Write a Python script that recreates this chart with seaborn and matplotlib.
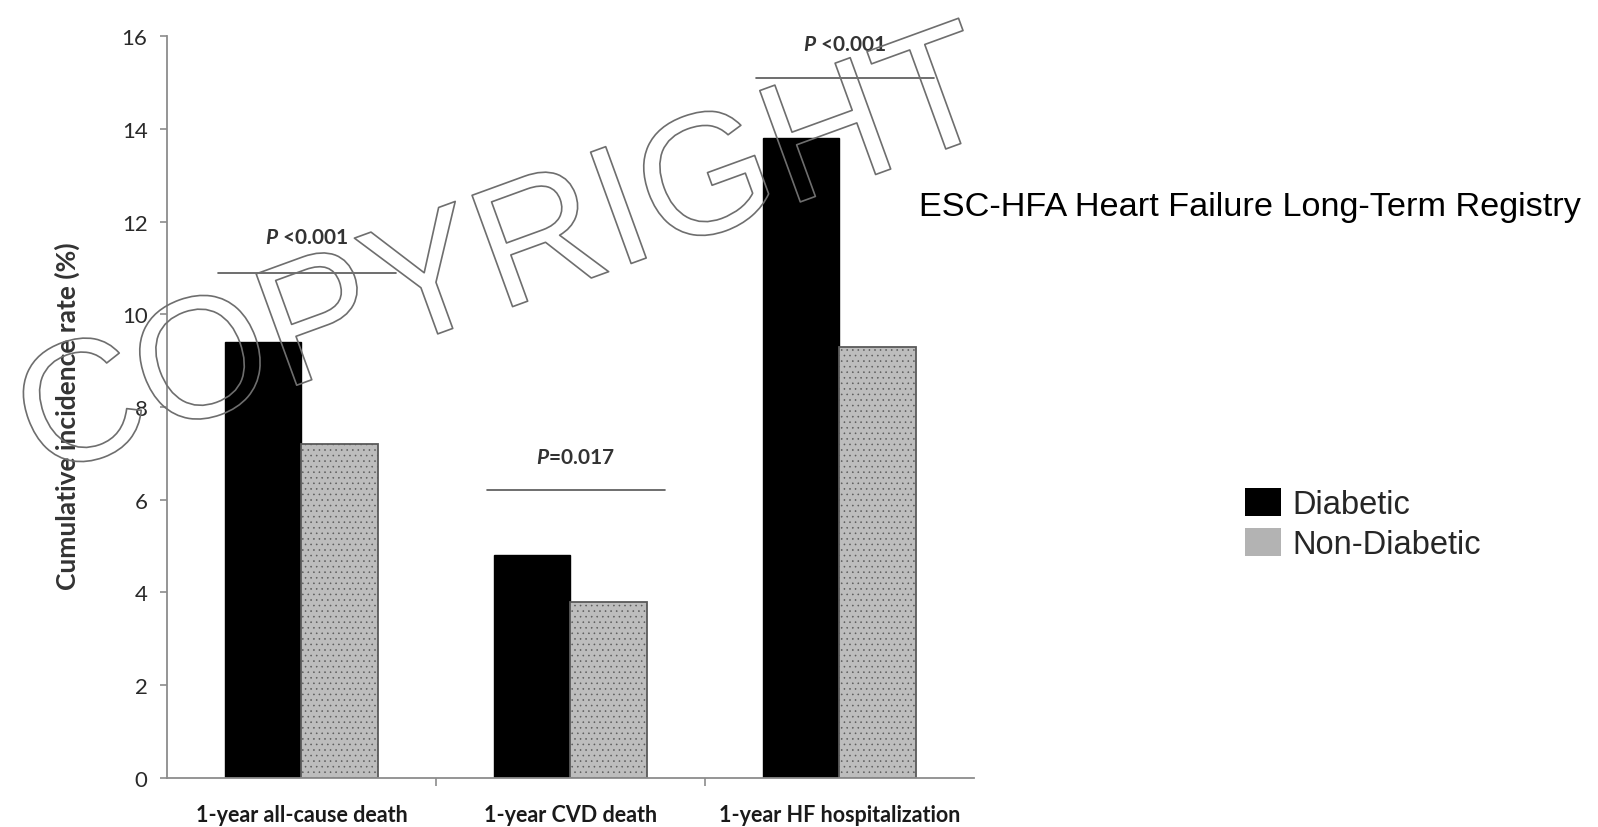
import matplotlib.pyplot as plt
import matplotlib.patheffects as pe
from matplotlib.patches import Patch
import pandas as pd
import seaborn as sns

categories = ["1-year all-cause death", "1-year CVD death", "1-year HF hospitalization"]
groups = ["Diabetic", "Non-Diabetic"]
diabetic = [9.4, 4.8, 13.8]
non_diabetic = [7.2, 3.8, 9.3]
p_labels = [r"$P$ <0.001", r"$P$=0.017", r"$P$ <0.001"]
p_line_y = [10.9, 6.2, 15.1]
p_text_y = [11.67, 6.92, 15.83]
y_ticks = [0, 2, 4, 6, 8, 10, 12, 14, 16]

df = pd.DataFrame({
    "category": categories * 2,
    "group": [groups[0]] * 3 + [groups[1]] * 3,
    "rate": diabetic + non_diabetic,
})

sns.set_theme(style="white")
plt.rcParams["font.family"] = ["Lato", "DejaVu Sans"]
plt.rcParams["mathtext.fontset"] = "custom"
plt.rcParams["mathtext.it"] = "Lato:italic:bold"
plt.rcParams["mathtext.rm"] = "Lato:bold"
plt.rcParams["hatch.linewidth"] = 0.4

fig = plt.figure(figsize=(15.98, 8.28), dpi=100)
ax = fig.add_axes([0.1045, 0.0592, 0.5050, 0.8961])

sns.barplot(data=df, x="category", y="rate", hue="group", hue_order=groups,
            palette=["black", "#bdbdbd"], width=0.57, gap=0, legend=False,
            saturation=1, ax=ax)

for bar in ax.containers[0]:
    bar.set_edgecolor("black")
    bar.set_linewidth(1)
for bar in ax.containers[1]:
    bar.set_edgecolor("#5a5a5a")
    bar.set_linewidth(1.3)
    bar.set_hatch("...")

ax.set_xlim(-0.5, 2.5)
ax.set_ylim(0, 16)
ax.set_yticks(y_ticks)
ax.set_xlabel("")
ax.set_ylabel("Cumulative incidence rate (%)", fontsize=19, fontweight="bold", color="#333333")
ax.yaxis.set_label_coords(-0.108, 0.489)

for s in ["top", "right"]:
    ax.spines[s].set_visible(False)
for s in ["left", "bottom"]:
    ax.spines[s].set_color("#8c8c8c")
    ax.spines[s].set_linewidth(1.3)

ax.tick_params(axis="y", left=True, length=5, width=1.2, color="#8c8c8c",
               pad=9, labelsize=16, labelcolor="#2a2a2a")
ax.tick_params(axis="x", bottom=False, pad=13, labelsize=15.5, labelcolor="#1a1a1a")
for lab in ax.get_xticklabels():
    lab.set_fontweight("bold")
ax.set_xticks([0.5, 1.5], minor=True)
ax.tick_params(axis="x", which="minor", bottom=True, length=6, width=1.2, color="#8c8c8c")

# significance bars
for i in range(len(categories)):
    ax.plot([i - 0.31, i + 0.35], [p_line_y[i]] * 2, color="#555555", lw=1.2)
    ax.text(i + 0.02, p_text_y[i], p_labels[i], ha="center", va="center",
            fontsize=15, fontweight="bold", color="#333333")

fig.text(0.575, 0.749, "ESC-HFA Heart Failure Long-Term Registry",
         fontsize=24.7, family="Liberation Sans", ha="left", va="center", color="black")

handles = [Patch(facecolor="black", edgecolor="none"),
           Patch(facecolor="#b3b3b3", edgecolor="none")]
fig.legend(handles, groups, loc="center left", bbox_to_anchor=(0.779, 0.366),
           frameon=False, borderpad=0, borderaxespad=0,
           prop={"family": "Liberation Sans", "size": 23.5},
           handlelength=1.1, handleheight=0.95, handletextpad=0.37, labelspacing=0.25)

# watermark, outline only
fig.text(0.317, 0.683, "COPYRIGHT", fontsize=124, family="Liberation Sans",
         rotation=20, rotation_mode="anchor", ha="center", va="center",
         color="none", zorder=10,
         path_effects=[pe.Stroke(linewidth=1.2, foreground="#6e6e6e")])

fig.savefig("out.png", dpi=100)
